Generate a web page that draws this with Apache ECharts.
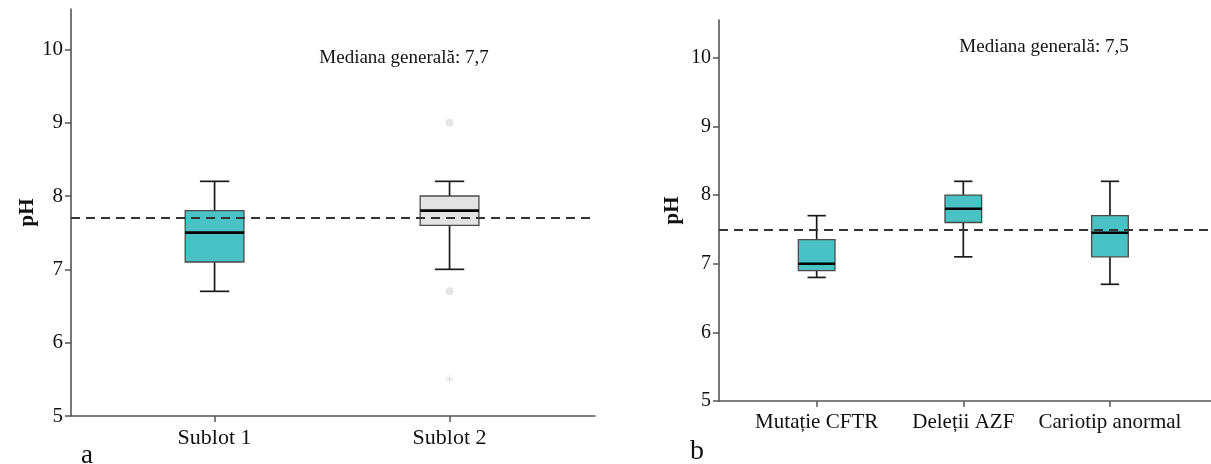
<!DOCTYPE html>
<html>
<head>
<meta charset="utf-8">
<script src="https://cdn.jsdelivr.net/npm/echarts@6/dist/echarts.min.js"></script>
<style>
html,body{margin:0;padding:0;background:#fff;}
#chart{width:1211px;height:464px;}
</style>
</head>
<body>
<div id="chart"></div>
<script>
// ---- data ----
const leftCategories = ['Sublot 1', 'Sublot 2'];
// [min, Q1, median, Q3, max]
const leftBoxes = [
  [6.7, 7.1, 7.5, 7.8, 8.2],
  [7.0, 7.6, 7.8, 8.0, 8.2]
];
const leftOutliers = [[2, 9.0], [2, 6.7]];
const leftExtremes = [[2, 5.5]];
const leftOverallMedian = 7.7;

const rightCategories = ['Mutație CFTR', 'Deleții AZF', 'Cariotip anormal'];
const rightBoxes = [
  [6.8, 6.9, 7.0, 7.35, 7.7],
  [7.1, 7.6, 7.8, 8.0, 8.2],
  [6.7, 7.1, 7.45, 7.7, 8.2]
];
const rightOverallMedian = 7.5;

const yTicks = [5, 6, 7, 8, 9, 10];
const leftTitle = 'Mediana generală: 7,7';
const rightTitle = 'Mediana generală: 7,5';

// ---- styles ----
const leftFills = ['#48C2C5', '#E3E3E3'];
const rightFills = ['#48C2C5', '#48C2C5', '#48C2C5'];
const FONT = '"Liberation Serif", "Times New Roman", serif';

function boxRenderer(fills) {
  return function (params, api) {
    const x = api.value(0);
    const p = i => api.coord([x, api.value(i)]);
    const lo = p(1), q1 = p(2), md = p(3), q3 = p(4), hi = p(5);
    const w = api.size([0.25, 0])[0];
    const cx = lo[0];
    const ls = { stroke: '#1a1a1a', lineWidth: 1.7 };
    return {
      type: 'group',
      children: [
        { type: 'line', shape: { x1: cx, y1: hi[1], x2: cx, y2: q3[1] }, style: ls },
        { type: 'line', shape: { x1: cx, y1: q1[1], x2: cx, y2: lo[1] }, style: ls },
        { type: 'line', shape: { x1: cx - w / 4, y1: hi[1], x2: cx + w / 4, y2: hi[1] }, style: ls },
        { type: 'line', shape: { x1: cx - w / 4, y1: lo[1], x2: cx + w / 4, y2: lo[1] }, style: ls },
        { type: 'rect', shape: { x: cx - w / 2, y: q3[1], width: w, height: q1[1] - q3[1] },
          style: { fill: fills[params.dataIndex], stroke: '#4a4a4a', lineWidth: 1.3 } },
        { type: 'line', shape: { x1: cx - w / 2, y1: md[1], x2: cx + w / 2, y2: md[1] },
          style: { stroke: '#000', lineWidth: 2.6 } }
      ]
    };
  };
}

function xAxisFor(gridIndex, cats, min, max, fontSize, margin) {
  const vals = cats.map((c, i) => i + 1);
  return {
    type: 'value', gridIndex: gridIndex, min: min, max: max,
    splitLine: { show: false },
    axisLine: { show: true, onZero: false, lineStyle: { color: '#555', width: 1.6 } },
    axisTick: { show: true, length: 6, customValues: vals, lineStyle: { color: '#555', width: 1.5 } },
    axisLabel: {
      customValues: vals, margin: margin, color: '#111', fontSize: fontSize, fontFamily: FONT,
      formatter: v => cats[Math.round(v) - 1] || ''
    }
  };
}
function yAxisFor(gridIndex, fontSize, nameGap) {
  return {
    type: 'value', gridIndex: gridIndex, min: 5, max: 10.55,
    name: 'pH', nameLocation: 'middle', nameGap: nameGap,
    nameTextStyle: { fontFamily: FONT, fontSize: 21, fontWeight: 'bold', color: '#111' },
    splitLine: { show: false },
    axisLine: { show: true, onZero: false, lineStyle: { color: '#555', width: 1.6 } },
    axisTick: { show: true, length: 6, customValues: yTicks, lineStyle: { color: '#555', width: 1.5 } },
    axisLabel: { customValues: yTicks, margin: 8, color: '#111', fontSize: fontSize, fontFamily: FONT }
  };
}

const asterisk = 'path://M5,0L5,10M0.7,2.5L9.3,7.5M0.7,7.5L9.3,2.5';

function markFor(v) {
  return {
    silent: true, symbol: 'none', z: 10,
    label: { show: false },
    lineStyle: { type: [9, 6], color: '#333', width: 2.2 },
    emphasis: { disabled: true },
    data: [{ yAxis: v }]
  };
}

const option = {
  animation: false,
  backgroundColor: '#fff',
  grid: [
    { left: 71, top: 9, width: 524, height: 407 },
    { left: 719, top: 20, width: 492, height: 381 }
  ],
  xAxis: [
    xAxisFor(0, leftCategories, 0.389, 2.619, 22, 11),
    xAxisFor(1, rightCategories, 0.334, 3.689, 21, 11)
  ],
  yAxis: [
    yAxisFor(0, 21, 30),
    yAxisFor(1, 20, 36)
  ],
  graphic: [
    { type: 'text', x: 404, y: 58, style: { text: leftTitle, font: '19px ' + FONT, fill: '#111', align: 'center', verticalAlign: 'middle' } },
    { type: 'text', x: 1044, y: 47, style: { text: rightTitle, font: '19px ' + FONT, fill: '#111', align: 'center', verticalAlign: 'middle' } },
    { type: 'text', x: 81, y: 456, style: { text: 'a', font: '27px ' + FONT, fill: '#111', align: 'left', verticalAlign: 'middle' } },
    { type: 'text', x: 690, y: 452, style: { text: 'b', font: '28px ' + FONT, fill: '#111', align: 'left', verticalAlign: 'middle' } }
  ],
  series: [
    {
      type: 'custom', xAxisIndex: 0, yAxisIndex: 0, z: 3,
      renderItem: boxRenderer(leftFills),
      encode: { x: 0, y: [1, 2, 3, 4, 5] },
      data: leftBoxes.map((b, i) => [i + 1].concat(b)),
      markLine: markFor(leftOverallMedian)
    },
    {
      type: 'scatter', xAxisIndex: 0, yAxisIndex: 0, z: 2,
      symbol: 'circle', symbolSize: 8,
      itemStyle: { color: '#E0E0E0' },
      data: leftOutliers
    },
    {
      type: 'scatter', xAxisIndex: 0, yAxisIndex: 0, z: 2,
      symbol: asterisk, symbolSize: 8,
      itemStyle: { color: 'none', borderColor: '#D8D8D8', borderWidth: 1 },
      data: leftExtremes
    },
    {
      type: 'custom', xAxisIndex: 1, yAxisIndex: 1, z: 3,
      renderItem: boxRenderer(rightFills),
      encode: { x: 0, y: [1, 2, 3, 4, 5] },
      data: rightBoxes.map((b, i) => [i + 1].concat(b)),
      markLine: markFor(rightOverallMedian)
    }
  ]
};

const chart = echarts.init(document.getElementById('chart'), null, { renderer: 'canvas' });
chart.setOption(option);
</script>
</body>
</html>
